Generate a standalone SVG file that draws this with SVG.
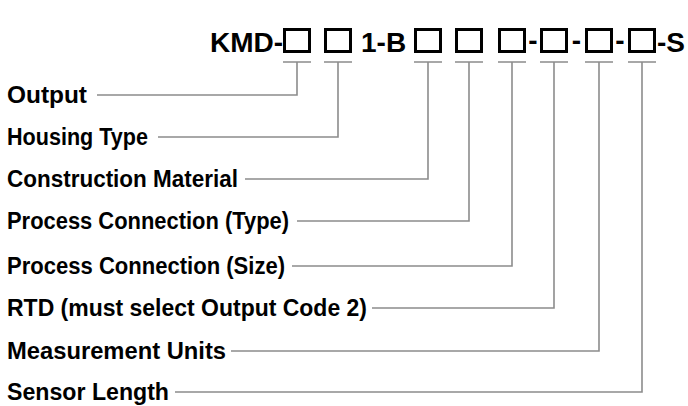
<svg xmlns="http://www.w3.org/2000/svg" width="688" height="406" viewBox="0 0 688 406">
<style>
.t{font-family:"Liberation Sans",Arial,sans-serif;font-weight:bold;fill:#000}
.title{font-size:28px}
.lbl{font-size:23px}
.box{fill:#fff;stroke:#000;stroke-width:3}
.cn{fill:none;stroke:#8c8c8c;stroke-width:1.6}
</style>
<rect width="688" height="406" fill="#fff"/>
<g id="code">
<text class="t title" x="283" y="52" text-anchor="end">KMD-</text>
<text class="t title" x="361" y="52">1-B</text>
<text class="t title" x="533" y="50" text-anchor="middle">-</text>
<text class="t title" x="576.5" y="50" text-anchor="middle">-</text>
<text class="t title" x="620" y="50" text-anchor="middle">-</text>
<text class="t title" x="657" y="52">-S</text>
</g>
<g id="boxes">
<rect class="box" x="284.5" y="29.5" width="25" height="22"/>
<rect class="box" x="325.5" y="29.5" width="25" height="22"/>
<rect class="box" x="415.5" y="29.5" width="25" height="22"/>
<rect class="box" x="456.5" y="29.5" width="25" height="22"/>
<rect class="box" x="499.5" y="29.5" width="25" height="22"/>
<rect class="box" x="541.5" y="29.5" width="25" height="22"/>
<rect class="box" x="586.5" y="29.5" width="25" height="22"/>
<rect class="box" x="629.5" y="29.5" width="25" height="22"/>
</g>
<g id="connectors">
<path class="cn" d="M283,62H311M324,62H352M414,62H442M455,62H483M498,62H526M540,62H568M585,62H613M628,62H656"/>
<path class="cn" d="M97,95H297V62"/>
<path class="cn" d="M158,137H338V62"/>
<path class="cn" d="M245,179H428V62"/>
<path class="cn" d="M297,221H469V62"/>
<path class="cn" d="M292,266H512V62"/>
<path class="cn" d="M372,308H554V62"/>
<path class="cn" d="M231,351H599V62"/>
<path class="cn" d="M175,392H642V62"/>
</g>
<g id="n-output"><text class="t lbl" x="7" y="103" textLength="80" lengthAdjust="spacingAndGlyphs">Output</text></g>
<g id="n-housing"><text class="t lbl" x="7" y="145" textLength="141" lengthAdjust="spacingAndGlyphs">Housing Type</text></g>
<g id="n-material"><text class="t lbl" x="7" y="187" textLength="231" lengthAdjust="spacingAndGlyphs">Construction Material</text></g>
<g id="n-pctype"><text class="t lbl" x="7" y="229" textLength="282" lengthAdjust="spacingAndGlyphs">Process Connection (Type)</text></g>
<g id="n-pcsize"><text class="t lbl" x="7" y="274" textLength="278" lengthAdjust="spacingAndGlyphs">Process Connection (Size)</text></g>
<g id="n-rtd"><text class="t lbl" x="7" y="316" textLength="360" lengthAdjust="spacingAndGlyphs">RTD (must select Output Code 2)</text></g>
<g id="n-units"><text class="t lbl" x="7" y="359" textLength="219" lengthAdjust="spacingAndGlyphs">Measurement Units</text></g>
<g id="n-length"><text class="t lbl" x="7" y="400" textLength="162" lengthAdjust="spacingAndGlyphs">Sensor Length</text></g>
</svg>
